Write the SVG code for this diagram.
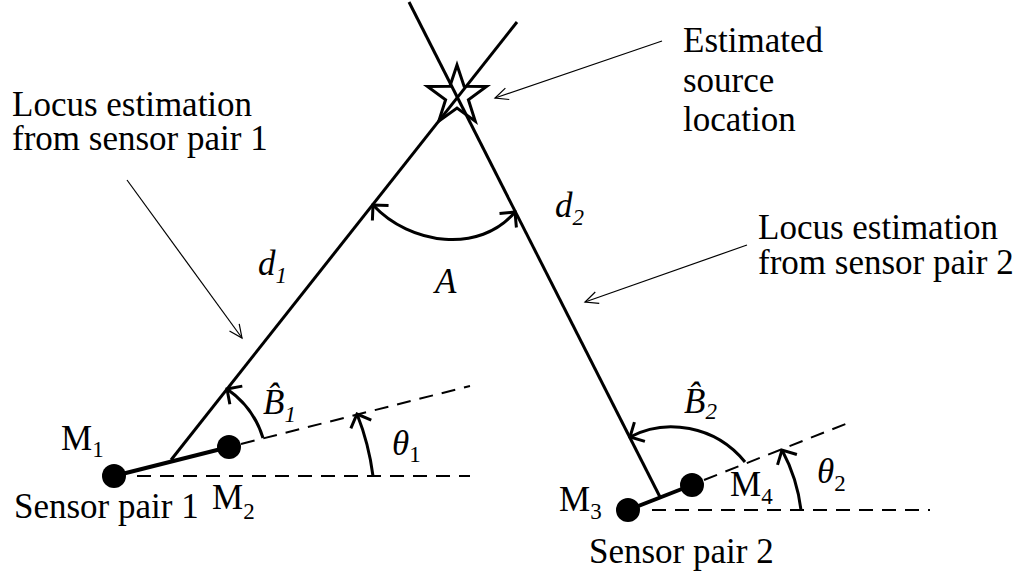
<svg xmlns="http://www.w3.org/2000/svg" width="1015" height="575" viewBox="0 0 1015 575">
<style>
text{font-family:"Liberation Serif","Times New Roman",serif;font-size:35px;fill:#000}
.mi{font-style:italic}
.sub{font-size:23px}
.up{font-style:normal}
.bold{stroke:#000;stroke-width:3;fill:none}
.seg{stroke:#000;stroke-width:4;fill:none}
.dash{stroke:#000;stroke-width:2;fill:none;stroke-dasharray:14 9}
.thin{stroke:#000;stroke-width:1.2;fill:none}
.dot{fill:#000}
</style>
<defs>
<marker id="ab" viewBox="-14 -14 16 28" markerWidth="16" markerHeight="28" refX="0" refY="0" markerUnits="userSpaceOnUse" orient="auto-start-reverse" overflow="visible">
<path d="M-11,-11 L0,0 L-11,11" fill="none" stroke="#000" stroke-width="3"/>
</marker>
<marker id="at" viewBox="-14 -8 16 16" markerWidth="16" markerHeight="16" refX="0" refY="0" markerUnits="userSpaceOnUse" orient="auto" overflow="visible">
<path d="M-13,-6 L0,0 L-13,6" fill="none" stroke="#000" stroke-width="1.2"/>
</marker>
</defs>
<rect width="1015" height="575" fill="#fff"/>
<g id="connectors">
<line class="bold" x1="517" y1="22" x2="171" y2="460"/>
<line class="bold" x1="409" y1="2" x2="660" y2="497"/>
<line class="dash" x1="137" y1="476" x2="470" y2="476"/>
<line class="dash" x1="241" y1="444" x2="470" y2="386"/>
<line class="dash" x1="652" y1="510" x2="930" y2="510"/>
<line class="dash" x1="704" y1="480" x2="848" y2="423"/>
<path class="bold" d="M373,205 C410,245 480,254 515,212" marker-start="url(#ab)" marker-end="url(#ab)"/>
<path class="bold" d="M373,476 A255,255 0 0 0 357,414" marker-end="url(#ab)"/>
<path class="bold" d="M801,510 A170,170 0 0 0 782,450" marker-end="url(#ab)"/>
<path class="bold" d="M263,438 A92,92 0 0 0 227,389" marker-end="url(#ab)"/>
<path class="bold" d="M745,462 C715,425 665,418 630,437" marker-end="url(#ab)"/>
<line class="thin" x1="127" y1="180" x2="242" y2="338" marker-end="url(#at)"/>
<line class="thin" x1="662" y1="41" x2="495" y2="98" marker-end="url(#at)"/>
<line class="thin" x1="747" y1="245" x2="585" y2="302" marker-end="url(#at)"/>
</g>
<g id="source">
<polygon class="bold" points="457,65 464.1,86.3 486.5,86.4 468.4,99.7 475.2,121.1 457,108 438.8,121.1 445.6,99.7 427.5,86.4 449.9,86.3"/>
</g>
<g id="sensor-pair-1">
<line class="seg" x1="114" y1="476" x2="229" y2="447"/>
<circle class="dot" cx="114" cy="476" r="12"/>
<circle class="dot" cx="229" cy="447" r="12"/>
</g>
<g id="sensor-pair-2">
<line class="seg" x1="628" y1="510" x2="692" y2="485"/>
<circle class="dot" cx="628" cy="510" r="12"/>
<circle class="dot" cx="692" cy="485" r="12"/>
</g>
<g id="labels">
<text><tspan x="12" y="116">Locus estimation</tspan><tspan x="12" y="150">from sensor pair 1</tspan></text>
<text><tspan x="683" y="52">Estimated</tspan><tspan x="683" y="92">source</tspan><tspan x="683" y="131">location</tspan></text>
<text><tspan x="758" y="239">Locus estimation</tspan><tspan x="758" y="274">from sensor pair 2</tspan></text>
<text class="mi" x="258" y="275">d<tspan class="sub" dy="8">1</tspan></text>
<text class="mi" x="555" y="217">d<tspan class="sub" dy="8">2</tspan></text>
<text class="mi" x="435" y="293">A</text>
<text class="mi" x="263" y="414">B̂<tspan class="sub" dy="8">1</tspan></text>
<text class="mi" x="392" y="455">θ<tspan class="sub up" dy="7">1</tspan></text>
<text x="61" y="450">M<tspan class="sub" dy="7">1</tspan></text>
<text x="14" y="518">Sensor pair 1</text>
<text x="212" y="509">M<tspan class="sub" dy="10">2</tspan></text>
<text class="mi" x="684" y="413">B̂<tspan class="sub" dy="6">2</tspan></text>
<text x="559" y="511">M<tspan class="sub" dy="8">3</tspan></text>
<text x="589" y="563">Sensor pair 2</text>
<text x="730" y="496">M<tspan class="sub" dy="8">4</tspan></text>
<text class="mi" x="817" y="483">θ<tspan class="sub up" dy="8">2</tspan></text>
</g>
</svg>
